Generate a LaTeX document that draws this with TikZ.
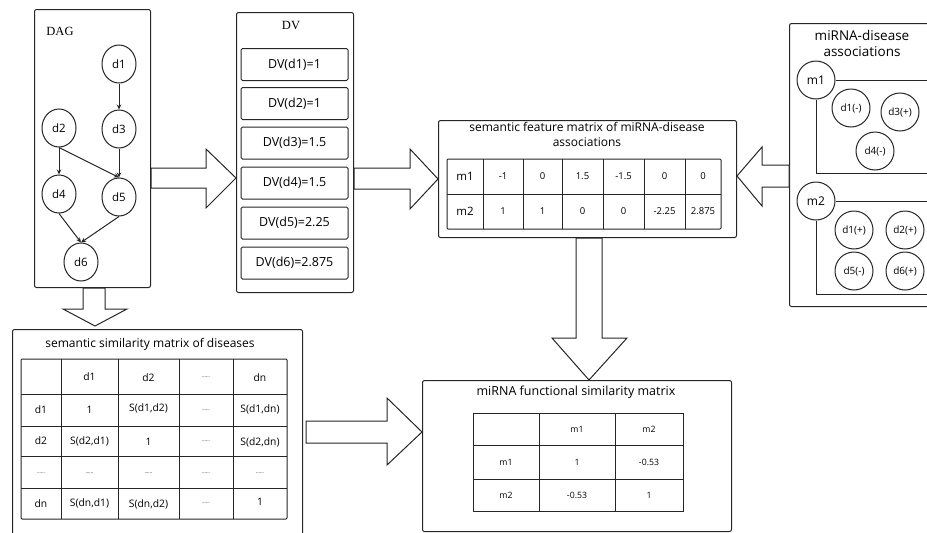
\documentclass[tikz,border=0pt]{standalone}
\usepackage{fontspec}
\setmainfont{Open Sans}
\newfontfamily\serifdv{Liberation Serif}
\usetikzlibrary{shapes.geometric,arrows.meta,calc}
\begin{document}
\begin{tikzpicture}[x=1pt,y=-1pt,
  ln/.style={draw=black!85, line width=1pt},
  panel/.style={ln, rounded corners=2pt, anchor=north west, inner sep=0pt, fill=white},
  dvbox/.style={ln, rounded corners=1.5pt, minimum width=107pt, minimum height=32pt, inner sep=0pt, font=\fontsize{12.5}{14}\selectfont},
  dnode/.style={ellipse, ln, minimum width=34pt, minimum height=38pt, inner sep=0pt, font=\fontsize{11.5}{12}\selectfont},
  circ/.style={circle, ln, fill=white, minimum size=38pt, inner sep=0pt, font=\fontsize{12}{13}\selectfont},
  scirc/.style={circle, ln, fill=white, minimum size=38pt, inner sep=0pt, font=\fontsize{10}{11}\selectfont},
  edge/.style={ln, -{Stealth[length=5pt,width=4.5pt]}},
  blk/.style={ln, fill=white, line join=miter},
  ttl/.style={font=\fontsize{12}{15}\selectfont, align=center, inner sep=0pt},
  cell/.style={font=\fontsize{9.5}{10}\selectfont, inner sep=0pt},
  scell/.style={font=\fontsize{10.3}{11}\selectfont, inner sep=0pt},
  gcell/.style={font=\fontsize{8.7}{10}\selectfont, inner sep=0pt},
  bcell/.style={font=\fontsize{11.5}{12}\selectfont, inner sep=0pt},
  dcell/.style={font=\fontsize{5}{6}\selectfont, inner sep=0pt},
  grid/.style={ln}
]
\useasboundingbox (0,0) rectangle (927,533);
\clip (0,0) rectangle (927,533);

% ---------- DAG panel ----------
\node[panel, minimum width=116pt, minimum height=278pt] (dag) at (34,9) {};
\node[font=\serifdv\fontsize{12.5}{14}\selectfont, inner sep=0pt] (dagt) at (60,31) {DAG};
\node[dnode] (d1) at (119,64) {d1};
\node[dnode] (d3) at (119,129) {d3};
\node[dnode] (d2) at (59,128) {d2};
\node[dnode] (d4) at (59,194) {d4};
\node[dnode] (d5) at (119,197) {d5};
\node[dnode] (d6) at (81,262) {d6};
\draw[edge] (d1.south) -- (d3.north);
\draw[edge] (d2.south) -- (d4.north);
\draw[edge] (d2.south) -- (d5.north);
\draw[edge] (d3.south) -- (d5.north);
\draw[edge] (d4.south) -- (d6.north);
\draw[edge] (d5.south) -- (d6.north);

% ---------- DV panel ----------
\node[panel, minimum width=117pt, minimum height=280pt] (dv) at (236,12) {};
\node[font=\serifdv\fontsize{12.5}{14}\selectfont, inner sep=0pt] (dvt) at (291,26) {DV};
\node[dvbox] (dv1) at (294.5,64.5) {DV(d1)=1};
\node[dvbox] (dv2) at (294.5,103.5) {DV(d2)=1};
\node[dvbox] (dv3) at (294.5,143) {DV(d3)=1.5};
\node[dvbox] (dv4) at (294.5,183) {DV(d4)=1.5};
\node[dvbox] (dv5) at (294.5,223) {DV(d5)=2.25};
\node[dvbox] (dv6) at (294.5,263) {DV(d6)=2.875};

% ---------- semantic feature matrix ----------
\node[panel, minimum width=298pt, minimum height=117pt] (fm) at (438,120) {};
\node[ttl] (fmt) at (587,134.5) {semantic feature matrix of miRNA-disease\\associations};
\draw[grid, rounded corners=1pt] (447,159) rectangle (721,229);
\draw[grid] (447,194) -- (721,194);
\foreach \x in {483,523,562,603,644,685} \draw[grid] (\x,159) -- (\x,229);
\node[bcell] (f-1-0) at (465,176.5) {m1};
\node[bcell] (f-2-0) at (465,211.5) {m2};
\foreach \v [count=\i] in {-1,0,1.5,-1.5,0,0}{
  \pgfmathsetmacro{\cx}{{503,542.5,582.5,623.5,664.5,703}[\i-1]}
  \node[cell] (f-1-\i) at (\cx,176.5) {\v};
}
\foreach \v [count=\i] in {1,1,0,0,-2.25,2.875}{
  \pgfmathsetmacro{\cx}{{503,542.5,582.5,623.5,664.5,703}[\i-1]}
  \node[cell] (f-2-\i) at (\cx,211.5) {\v};
}

% ---------- miRNA-disease associations ----------
\node[panel, minimum width=160pt, minimum height=283pt] (ma) at (789,23) {};
\node[ttl, font=\fontsize{13.5}{16.5}\selectfont] (mat) at (862,43.5) {miRNA-disease\\associations};
\coordinate (m1r) at (940,80);
\coordinate (m1b) at (816,173);
\coordinate (m1br) at (940,173);
\coordinate (m2r) at (940,201);
\coordinate (m2b) at (816,294);
\coordinate (m2br) at (940,294);
\node[circ] (m1) at (816,80) {m1};
\node[circ] (m2) at (816,201) {m2};
\draw[ln] (m1.east) -- (m1r);
\draw[ln] (m1.south) -- (m1b) -- (m1br);
\draw[ln] (m2.east) -- (m2r);
\draw[ln] (m2.south) -- (m2b) -- (m2br);
\node[scirc] (a11) at (851,108) {d1(-)};
\node[scirc] (a13) at (900,112) {d3(+)};
\node[scirc] (a14) at (875,151) {d4(-)};
\node[scirc] (a21) at (854,230) {d1(+)};
\node[scirc] (a22) at (905,230) {d2(+)};
\node[scirc] (a25) at (854,271) {d5(-)};
\node[scirc] (a26) at (905,271) {d6(+)};

% ---------- semantic similarity matrix ----------
\node[panel, minimum width=290pt, minimum height=215pt] (sm) at (12,329) {};
\node[ttl] (smt) at (150,344) {semantic similarity matrix of diseases};
\draw[grid, rounded corners=1pt] (21,359) rectangle (287,519);
\foreach \y in {394,426,456,488} \draw[grid] (21,\y) -- (287,\y);
\foreach \x in {61,118,179,233} \draw[grid] (\x,359) -- (\x,519);
\def\dots{......}
\node[scell] (s-0-1) at (89.5,376.5) {d1};
\node[scell] (s-0-2) at (148.5,377.5) {d2};
\node[dcell] (s-0-3) at (206,377) {\dots};
\node[scell] (s-0-4) at (260,377.5) {dn};
\node[scell] (s-1-0) at (41,410) {d1};
\node[scell] (s-1-1) at (89.5,410) {1};
\node[scell] (s-1-2) at (148.5,408) {S(d1,d2)};
\node[dcell] (s-1-3) at (206,410) {\dots};
\node[scell] (s-1-4) at (260,409) {S(d1,dn)};
\node[scell] (s-2-0) at (41,441) {d2};
\node[scell] (s-2-1) at (89.5,441) {S(d2,d1)};
\node[scell] (s-2-2) at (148.5,442) {1};
\node[dcell] (s-2-3) at (206,441) {\dots};
\node[scell] (s-2-4) at (260,442) {S(d2,dn)};
\node[dcell] (s-3-0) at (41,473) {\dots};
\node[dcell] (s-3-1) at (89.5,473) {\dots};
\node[dcell] (s-3-2) at (148.5,473) {\dots};
\node[dcell] (s-3-3) at (206,473) {\dots};
\node[dcell] (s-3-4) at (260,473) {\dots};
\node[scell] (s-4-0) at (41,503.5) {dn};
\node[scell] (s-4-1) at (89.5,503) {S(dn,d1)};
\node[scell] (s-4-2) at (148.5,504.5) {S(dn,d2)};
\node[dcell] (s-4-3) at (206,503.5) {\dots};
\node[scell] (s-4-4) at (260,502) {1};

% ---------- miRNA functional similarity matrix ----------
\node[panel, minimum width=309pt, minimum height=151pt] (fs) at (422,380) {};
\node[ttl, font=\fontsize{12.5}{15}\selectfont] (fst) at (576,392) {miRNA functional similarity matrix};
\draw[grid] (473,413) rectangle (683,511);
\foreach \y in {445,479} \draw[grid] (473,\y) -- (683,\y);
\foreach \x in {539,615} \draw[grid] (\x,413) -- (\x,511);
\node[gcell] (g-0-1) at (577,429) {m1};
\node[gcell] (g-0-2) at (649,429) {m2};
\node[gcell] (g-1-0) at (506,462) {m1};
\node[gcell] (g-1-1) at (577,462) {1};
\node[gcell] (g-1-2) at (649,462) {-0.53};
\node[gcell] (g-2-0) at (506,495) {m2};
\node[gcell] (g-2-1) at (577,495) {-0.53};
\node[gcell] (g-2-2) at (649,495) {1};

% ---------- block arrows ----------
\draw[blk] (dag.east |- 0,168) -- (206,168) -- (206,149) -- (dv.west |- 0,178) -- (206,208) -- (206,188) -- (dag.east |- 0,188) -- cycle;
\draw[blk] (dv.east |- 0,168) -- (410,168) -- (410,149) -- (fm.west |- 0,179) -- (410,209) -- (410,189) -- (dv.east |- 0,189) -- cycle;
\draw[blk] (ma.west |- 0,165) -- (762,165) -- (762,147) -- (fm.east |- 0,176) -- (762,206) -- (762,187) -- (ma.west |- 0,187) -- cycle;
\draw[blk] (83,0 |- dag.south) -- (83,309) -- (63,309) -- (95,326) -- (127,309) -- (105,309) -- (105,0 |- dag.south) -- cycle;
\draw[blk] (576,0 |- fm.south) -- (576,338) -- (552,338) -- (589,0 |- fs.north) -- (627,338) -- (602,338) -- (602,0 |- fm.south) -- cycle;
\draw[blk] (306,421) -- (387,421) -- (387,398) -- (fs.west |- 0,432) -- (387,465) -- (387,443) -- (306,443) -- cycle;
\end{tikzpicture}
\end{document}
